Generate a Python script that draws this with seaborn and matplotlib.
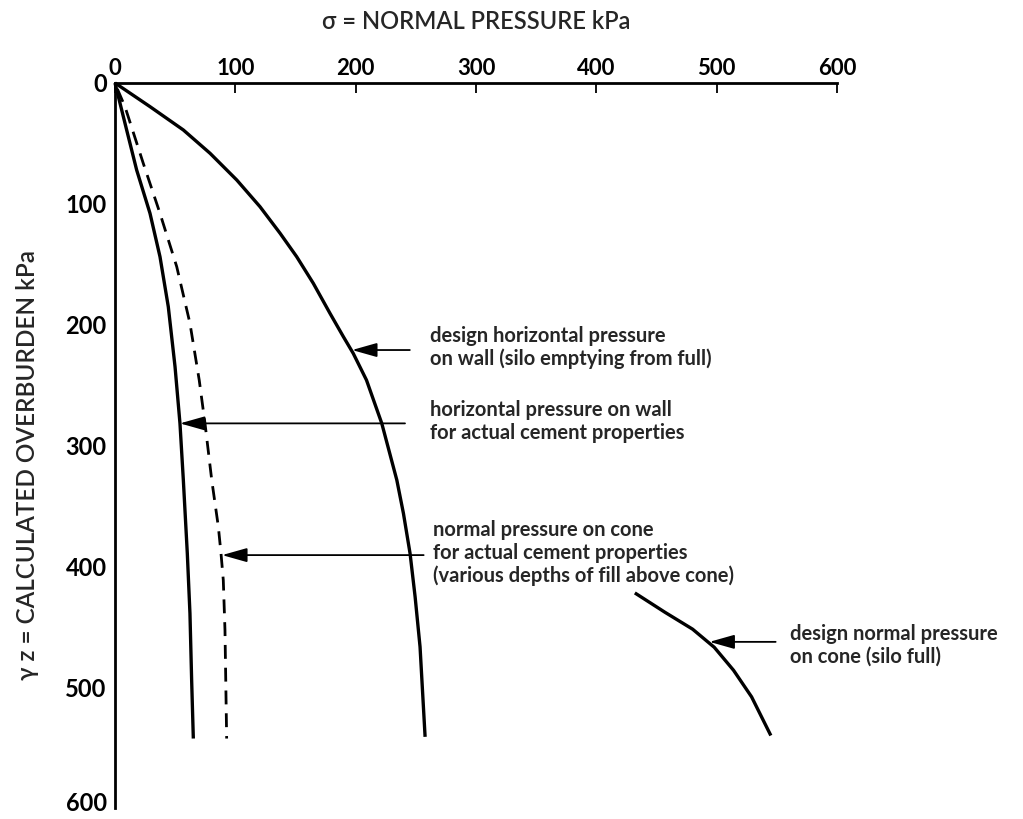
import numpy as np
import pandas as pd
import matplotlib
matplotlib.use("Agg")
import matplotlib.pyplot as plt
import matplotlib.transforms as mtrans
import seaborn as sns

# ---- data (x = normal pressure kPa, y = overburden kPa) ----
design_wall_x = [0, 29.1, 56.8, 79, 101.2, 120.5, 137.2, 151, 164.8, 178.7, 189.8,
                 198, 209, 221.7, 234.2, 239.7, 245.2, 249.4, 253.5, 257.7]
design_wall_y = [0, 19.6, 38.9, 58.2, 80.3, 102.4, 124.4, 143.8, 165.8, 190.7, 210,
                 223.8, 245.9, 281.7, 328.6, 356.2, 389.3, 425.2, 466.6, 541.1]

actual_wall_x = [0, 9.7, 18, 29.1, 37.4, 44.3, 49.9, 54, 56.8, 60.1, 62.3, 63.7, 65.1]
actual_wall_y = [0, 38.9, 72, 107.9, 143.8, 185.2, 234.8, 281.7, 328.6, 389.3, 439, 494.2, 542.5]

actual_cone_x = [2, 8.3, 23.5, 37.4, 51.3, 62.3, 70, 74.8, 80.4, 85.9, 88.1, 90, 91.4, 92.8]
actual_cone_y = [5, 19.6, 66.5, 107.9, 152, 198.9, 245.9, 281.7, 328.6, 367.3, 389.3,
                 411.4, 452.8, 542.5]

design_cone_x = [432, 457, 480, 498, 514, 529, 545]
design_cone_y = [422, 438, 452, 467, 486, 508, 540]

x_ticks = [0, 100, 200, 300, 400, 500, 600]
y_ticks = [0, 100, 200, 300, 400, 500, 600]

labels = [
    "design horizontal pressure\non wall (silo emptying from full)",
    "horizontal pressure on wall\nfor actual cement properties",
    "normal pressure on cone\nfor actual cement properties\n(various depths of fill above cone)",
    "design normal pressure\non cone (silo full)",
]
label_pos = [(262, 219), (262, 280), (264, 389), (561, 465)]
arrow_tail = [(245, 221), (241, 281.7), (256.5, 390.7), (549, 462.5)]
arrow_tip = [(197, 221), (54, 281.7), (89, 390.7), (494, 462.5)]

# ---- build long-form table ----
frames = []
for name, xs, ys in [("design_wall", design_wall_x, design_wall_y),
                     ("actual_wall", actual_wall_x, actual_wall_y),
                     ("actual_cone", actual_cone_x, actual_cone_y),
                     ("design_cone", design_cone_x, design_cone_y)]:
    frames.append(pd.DataFrame({"sigma": xs, "overburden": ys, "curve": name}))
df = pd.concat(frames, ignore_index=True)

sns.set_theme(style="white")
plt.rcParams["font.family"] = ["Lato", "DejaVu Sans"]

fig = plt.figure(figsize=(10.23, 8.19), dpi=100)
ax = fig.add_axes([0.1124, 0.0134, 0.7058, 0.8853])

sns.lineplot(data=df, x="sigma", y="overburden", hue="curve", style="curve",
             units="curve", estimator=None, sort=False,
             palette={"design_wall": "black", "actual_wall": "black",
                      "actual_cone": "black", "design_cone": "black"},
             dashes={"design_wall": "", "actual_wall": "", "actual_cone": (5, 3.2),
                     "design_cone": ""},
             linewidth=2.4, legend=False, ax=ax)
for ln in ax.lines:
    ln.set_solid_capstyle("butt")
    ln.set_solid_joinstyle("round")
    ln.set_clip_on(False)
ax.lines[2].set_linewidth(2.0)

ax.set_xlim(0, 600)
ax.set_ylim(600, 0)
ax.set_xlabel("")
ax.set_ylabel("")

for s in ["right", "bottom"]:
    ax.spines[s].set_visible(False)
for s in ["top", "left"]:
    ax.spines[s].set_visible(True)
    ax.spines[s].set_linewidth(2.0)
    ax.spines[s].set_color("black")

ax.xaxis.set_ticks_position("top")
ax.xaxis.set_label_position("top")
ax.set_xticks(x_ticks)
ax.set_yticks(y_ticks)
ax.set_xticklabels([str(v) for v in x_ticks], fontsize=16, fontweight="bold")
ax.set_yticklabels([str(v) for v in y_ticks], fontsize=17, fontweight="bold")
ax.tick_params(axis="x", direction="in", length=7, width=1.3, pad=3, colors="black")
ax.tick_params(axis="y", direction="in", length=7, width=1.3, pad=6, colors="black")

# keep the bottom "600" label inside the figure
last = ax.get_yticklabels()[-1]
last.set_transform(last.get_transform() +
                   mtrans.ScaledTranslation(0, 5 / 72, fig.dpi_scale_trans))

for txt, (tx, ty), tail, tip in zip(labels, label_pos, arrow_tail, arrow_tip):
    ax.text(tx, ty, txt, fontsize=14.5, fontweight="bold", ha="left", va="center",
            linespacing=1.17, clip_on=False)
    ax.annotate("", xy=tip, xytext=tail, annotation_clip=False,
                arrowprops=dict(arrowstyle="-|>,head_length=0.85,head_width=0.24",
                                lw=1.3, color="black", mutation_scale=18,
                                shrinkA=0, shrinkB=0))

fig.text(0.465, 0.9735, "σ = NORMAL PRESSURE kPa", fontsize=17, fontweight="semibold",
         ha="center", va="center")
fig.text(0.027, 0.432, "γ z = CALCULATED OVERBURDEN kPa", fontsize=17.5,
         fontweight="semibold", ha="center", va="center", rotation=90)

fig.savefig("out.png", dpi=100, facecolor="white")
